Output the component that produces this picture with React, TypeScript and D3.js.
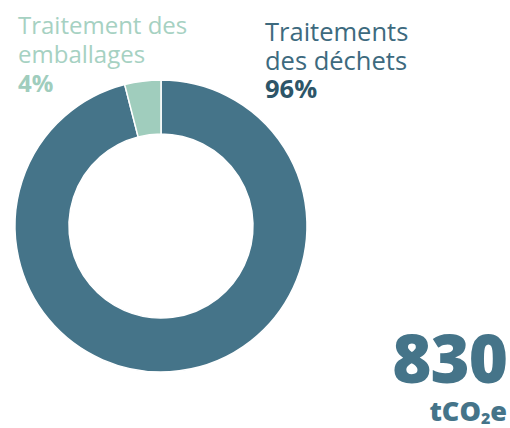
import React, { useEffect, useRef } from "react";
import * as d3 from "d3";

const categories = ["Traitements des déchets", "Traitement des emballages"];
const shares = [96, 4];
const labelLines = [
  ["Traitements", "des déchets"],
  ["Traitement des", "emballages"],
];
const sliceColors = ["#457489", "#a0cdbd"];
const labelColors = ["#3d6a7e", "#a6d1c2"];
const pctColors = ["#2d5568", "#a0cdbd"];
const total = "830";

const W = 510;
const H = 428;

const App = () => {
  const ref = useRef<SVGSVGElement | null>(null);

  useEffect(() => {
    const svg = d3.select(ref.current);
    svg.selectAll("*").remove();

    const data = categories.map((c, i) => ({ key: c, value: shares[i], i }));
    const pie = d3
      .pie<any>()
      .sort(null)
      .value((d) => d.value)
      .startAngle(0)
      .endAngle(2 * Math.PI);
    const arc = d3.arc<any>().innerRadius(92).outerRadius(146);

    const g = svg.append("g").attr("transform", "translate(161,226)");
    g.selectAll("path")
      .data(pie(data))
      .join("path")
      .attr("d", arc)
      .attr("fill", (d) => sliceColors[d.data.i])
      .attr("stroke", "#fff")
      .attr("stroke-width", 1.5);

    const font = "'Open Sans', sans-serif";
    // label block placement per slice
    const pos = [
      { x: 265, y: 41, size: 25.5, lh: 28.5 },
      { x: 18, y: 34, size: 24, lh: 29 },
    ];
    data.forEach((d, i) => {
      const p = pos[i];
      const t = svg
        .append("text")
        .attr("x", p.x)
        .attr("y", p.y)
        .style("font-family", font)
        .style("font-size", `${p.size}px`);
      labelLines[i].forEach((line, j) => {
        t.append("tspan")
          .attr("x", p.x)
          .attr("dy", j === 0 ? 0 : p.lh)
          .attr("fill", labelColors[i])
          .text(line);
      });
      t.append("tspan")
        .attr("x", p.x)
        .attr("dy", p.lh)
        .attr("fill", pctColors[i])
        .style("font-weight", 700)
        .text(`${d.value}%`);
    });

    svg
      .append("text")
      .attr("x", 507)
      .attr("y", 383)
      .attr("text-anchor", "end")
      .attr("fill", "#457489")
      .style("font-family", font)
      .style("font-size", "67px")
      .style("font-weight", 800)
      .style("letter-spacing", "-1px")
      .text(total);

    const unit = svg
      .append("text")
      .attr("x", 507)
      .attr("y", 421)
      .attr("text-anchor", "end")
      .attr("fill", "#457489")
      .style("font-family", font)
      .style("font-size", "27px")
      .style("font-weight", 800);
    unit.append("tspan").text("tCO");
    unit.append("tspan").attr("dy", 3).style("font-size", "16px").text("2");
    unit.append("tspan").attr("dy", -3).text("e");
  }, []);

  return (
    <svg
      ref={ref}
      width={W}
      height={H}
      style={{ position: "absolute", left: 0, top: 0, background: "#fff" }}
    />
  );
};

export default App;
